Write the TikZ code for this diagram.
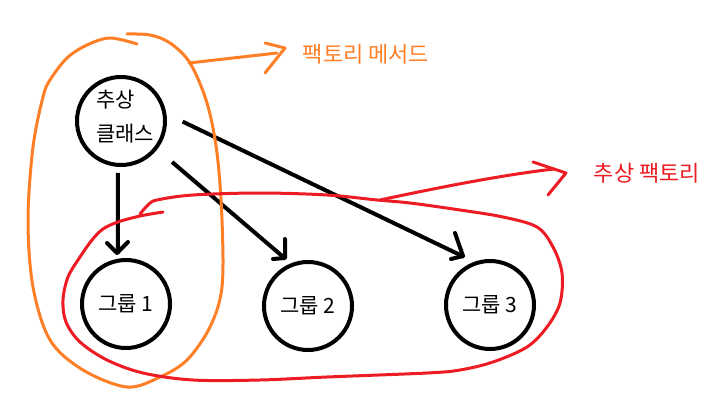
\documentclass[tikz,border=0pt]{standalone}
\usepackage{fontspec}
\setmainfont{Noto Sans CJK KR}
\usetikzlibrary{arrows.meta}
\definecolor{paintorange}{HTML}{FF7F27}
\definecolor{paintred}{HTML}{ED1C24}
\begin{document}
\begin{tikzpicture}[x=1pt,y=-1pt,
  cls/.style={circle, draw, line width=4pt, minimum size=88pt, inner sep=0pt, font=\fontsize{21}{25}\selectfont},
  lbl/.style={inner sep=0pt, font=\fontsize{22}{26}\selectfont},
  blackline/.style={line width=4pt},
  barb/.style={line width=4pt, line cap=round, line join=round},
  hand/.style={line width=3pt, line cap=round, line join=round}]
\fill[white] (0,0) rectangle (716,410);
\useasboundingbox (0,0) rectangle (716,410);
% nodes
\node[cls] (abs) at (121,121) {};
\node[lbl, align=left, font=\fontsize{21}{34}\selectfont] (abstxt) at (125,117) {추상\\클래스};
\node[cls] (g1) at (126,304) {그룹 1};
\node[cls] (g2) at (308,306) {그룹 2};
\node[cls] (g3) at (490,305) {그룹 3};
\node[lbl, text=paintorange] (fm) at (366,54) {팩토리 메서드};
\node[lbl, text=paintred] (af) at (647,173) {추상 팩토리};
% black connectors
\draw[blackline, shorten <=6pt, shorten >=5pt] (abs.-94) -- (g1.100);
\draw[blackline, shorten <=19.5pt, shorten >=7pt] (abs.-38) -- (g2.112);
\draw[blackline, shorten <=18pt, shorten >=11.5pt] (abs.9) -- (g3.110);
% hand-drawn arrow heads
\coordinate (t1) at (117,253);
\coordinate (t2) at (285,258);
\coordinate (t3) at (463,256);
\draw[barb] ([shift={(-10,-10)}]t1) -- (t1) -- ([shift={(11,-11)}]t1);
\draw[barb] ([shift={(0,-19)}]t2) -- (t2) -- ([shift={(-12,1)}]t2);
\draw[barb] ([shift={(-8,-23)}]t3) -- (t3) -- ([shift={(-12,3)}]t3);
% orange loop
\draw[hand, paintorange] plot[smooth, tension=0.55] coordinates {(137,44) (110,38) (87,45) (67,58) (50,80) (43,97) (33,147) (28,220) (33,287) (50,340) (83,370) (127,387) (160,377) (187,360) (210,327) (222,287) (222,220) (217,153) (207,103) (190,63) (170,43) (150,35) (127,34)};
\coordinate (oa) at (189,63);
\coordinate (ot) at (285,48);
\draw[hand, paintorange] (oa) -- ([shift={(-8,5)}]ot);
\draw[hand, paintorange] ([shift={(-20,-5)}]ot) -- (ot) -- ([shift={(-20,25)}]ot);
% red loop
\draw[hand, paintred] plot[smooth, tension=0.55] coordinates {(163,212) (140,216) (118,222) (103,229) (92,240) (80,257) (68,277) (63,300) (66,322) (80,342) (107,360) (143,373) (193,380) (260,380) (327,377) (427,373) (460,370) (493,362) (527,347) (547,327) (560,303) (562,273) (553,247) (537,227) (503,217) (460,210) (410,203) (377,200) (327,195) (260,193) (193,195) (157,200) (148,205) (140,214)};
\coordinate (ra) at (380,200);
\coordinate (rt) at (566,173);
\draw[hand, paintred] (ra) .. controls (450,185) and (510,174) .. ([shift={(-12,-4)}]rt);
\draw[hand, paintred] ([shift={(-33,-11)}]rt) -- (rt) -- ([shift={(-18,22)}]rt);
\end{tikzpicture}
\end{document}
